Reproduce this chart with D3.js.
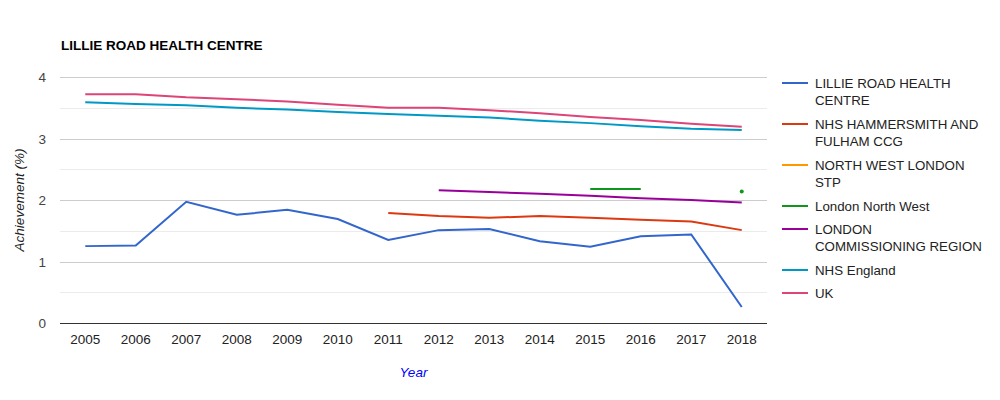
<!DOCTYPE html>
<html>
<head>
<meta charset="utf-8">
<script src="https://cdn.jsdelivr.net/npm/d3@7"></script>
<style>
  body { margin: 0; background: #fff; }
  text { font-family: Arial, "Liberation Sans", sans-serif; }
</style>
</head>
<body>
<div id="chart"></div>
<script>
"use strict";

var years = [2005, 2006, 2007, 2008, 2009, 2010, 2011, 2012, 2013, 2014, 2015, 2016, 2017, 2018];
var seriesNames = [
  "LILLIE ROAD HEALTH CENTRE",
  "NHS HAMMERSMITH AND FULHAM CCG",
  "NORTH WEST LONDON STP",
  "London North West",
  "LONDON COMMISSIONING REGION",
  "NHS England",
  "UK"
];
var legendLines = [
  ["LILLIE ROAD HEALTH", "CENTRE"],
  ["NHS HAMMERSMITH AND", "FULHAM CCG"],
  ["NORTH WEST LONDON", "STP"],
  ["London North West"],
  ["LONDON", "COMMISSIONING REGION"],
  ["NHS England"],
  ["UK"]
];
var colors = ["#3366cc", "#dc3912", "#ff9900", "#109618", "#990099", "#0099c6", "#dd4477"];

var practice = [1.25, 1.26, 1.97, 1.76, 1.84, 1.69, 1.35, 1.51, 1.53, 1.33, 1.24, 1.41, 1.44, 0.26];
var ccg = [null, null, null, null, null, null, 1.79, 1.74, 1.71, 1.74, 1.71, 1.68, 1.65, 1.51];
var stp = [null, null, null, null, null, null, null, null, null, null, null, null, null, null];
var londonNW = [null, null, null, null, null, null, null, null, null, null, 2.18, 2.18, null, 2.14];
var londonRegion = [null, null, null, null, null, null, null, 2.16, 2.13, 2.10, 2.07, 2.03, 2.00, 1.96];
var england = [3.59, 3.56, 3.54, 3.50, 3.47, 3.43, 3.40, 3.37, 3.34, 3.29, 3.25, 3.20, 3.16, 3.14];
var uk = [3.72, 3.72, 3.67, 3.64, 3.60, 3.55, 3.50, 3.50, 3.46, 3.41, 3.35, 3.30, 3.24, 3.19];
var yTicks = [0, 1, 2, 3, 4];
var yMinor = [0.5, 1.5, 2.5, 3.5];

var allSeries = [practice, ccg, stp, londonNW, londonRegion, england, uk];

var width = 1000, height = 400;
var margin = { top: 77, right: 233, bottom: 77, left: 60 };

var svg = d3.select("#chart").append("svg")
  .attr("width", width)
  .attr("height", height);

var x = d3.scalePoint()
  .domain(years)
  .range([margin.left, width - margin.right])
  .padding(0.5);

var y = d3.scaleLinear()
  .domain([0, 4])
  .range([height - margin.bottom, margin.top]);

// title
svg.append("text")
  .attr("x", 61)
  .attr("y", 50)
  .attr("font-size", 13.5)
  .attr("font-weight", "bold")
  .attr("fill", "#000")
  .text("LILLIE ROAD HEALTH CENTRE");

// gridlines
svg.append("g").selectAll("line.minor")
  .data(yMinor)
  .enter().append("line")
  .attr("x1", margin.left).attr("x2", width - margin.right)
  .attr("y1", function(d) { return Math.round(y(d)) + 0.5; })
  .attr("y2", function(d) { return Math.round(y(d)) + 0.5; })
  .attr("stroke", "#ebebeb");

svg.append("g").selectAll("line.major")
  .data(yTicks.slice(1))
  .enter().append("line")
  .attr("x1", margin.left).attr("x2", width - margin.right)
  .attr("y1", function(d) { return Math.round(y(d)) + 0.5; })
  .attr("y2", function(d) { return Math.round(y(d)) + 0.5; })
  .attr("stroke", "#cccccc");

// y tick labels
svg.append("g").selectAll("text")
  .data(yTicks)
  .enter().append("text")
  .attr("x", 46)
  .attr("y", function(d) { return y(d) + 5; })
  .attr("text-anchor", "end")
  .attr("font-size", 13.5)
  .attr("fill", "#444")
  .text(function(d) { return d; });

// x tick labels
svg.append("g").selectAll("text")
  .data(years)
  .enter().append("text")
  .attr("x", function(d) { return x(d); })
  .attr("y", 344)
  .attr("text-anchor", "middle")
  .attr("font-size", 13.5)
  .attr("fill", "#222")
  .text(function(d) { return d; });

// axis titles
svg.append("text")
  .attr("transform", "translate(24," + ((margin.top + height - margin.bottom) / 2) + ") rotate(-90)")
  .attr("text-anchor", "middle")
  .attr("font-size", 13.5)
  .attr("font-style", "italic")
  .attr("fill", "#222")
  .text("Achievement (%)");

svg.append("text")
  .attr("x", (margin.left + width - margin.right) / 2)
  .attr("y", 377)
  .attr("text-anchor", "middle")
  .attr("font-size", 13.5)
  .attr("font-style", "italic")
  .attr("fill", "#0000ff")
  .text("Year");

// lines
var line = d3.line()
  .defined(function(d) { return d != null; })
  .x(function(d, i) { return x(years[i]); })
  .y(function(d) { return y(d); });

allSeries.forEach(function(vals, s) {
  svg.append("path")
    .datum(vals)
    .attr("fill", "none")
    .attr("stroke", colors[s])
    .attr("stroke-width", 2)
    .attr("d", line);

  // isolated points
  var lone = vals.map(function(d, i) {
    var prev = i > 0 ? vals[i - 1] : null;
    var next = i < vals.length - 1 ? vals[i + 1] : null;
    return (d != null && prev == null && next == null) ? i : -1;
  }).filter(function(i) { return i >= 0; });

  svg.append("g").selectAll("circle")
    .data(lone)
    .enter().append("circle")
    .attr("cx", function(i) { return x(years[i]); })
    .attr("cy", function(i) { return y(vals[i]); })
    .attr("r", 2)
    .attr("fill", colors[s]);
});

// baseline
svg.append("line")
  .attr("x1", margin.left).attr("x2", width - margin.right)
  .attr("y1", Math.round(y(0)) + 0.5).attr("y2", Math.round(y(0)) + 0.5)
  .attr("stroke", "#333");

// legend
var legendY = 83;
var legend = svg.append("g");
seriesNames.forEach(function(name, s) {
  var g = legend.append("g").attr("transform", "translate(0," + legendY + ")");
  g.append("line")
    .attr("x1", 782).attr("x2", 808)
    .attr("y1", 0).attr("y2", 0)
    .attr("stroke", colors[s])
    .attr("stroke-width", 2);
  legendLines[s].forEach(function(t, k) {
    g.append("text")
      .attr("x", 815)
      .attr("y", 5 + k * 17)
      .attr("font-size", 13.3)
      .attr("fill", "#222")
      .text(t);
  });
  legendY += legendLines[s].length * 17 + (legendLines[s].length > 1 ? 7 : 6);
});
</script>
</body>
</html>
